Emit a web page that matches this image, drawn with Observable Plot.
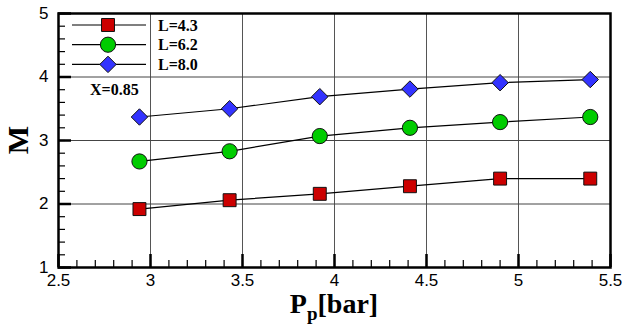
<!DOCTYPE html>
<html><head><meta charset="utf-8">
<script src="https://cdn.jsdelivr.net/npm/d3@7"></script>
<script src="https://cdn.jsdelivr.net/npm/@observablehq/plot@0.6"></script>
<style>body{margin:0;background:#fff}</style>
</head><body><div id="chart"></div>
<script>
const pressure = [2.94, 3.43, 3.92, 4.41, 4.90, 5.39];
const m43 = [1.92, 2.06, 2.16, 2.28, 2.40, 2.40];
const m62 = [2.67, 2.83, 3.07, 3.20, 3.29, 3.37];
const m80 = [3.37, 3.50, 3.69, 3.81, 3.91, 3.96];
const seriesNames = ["L=4.3", "L=6.2", "L=8.0"];
const seriesColors = ["#cc0000", "#00cc00", "#3333ff"];
const seriesSymbols = ["square", "circle", "diamond2"];
const xTicks = [2.5, 3, 3.5, 4, 4.5, 5, 5.5];
const yTicks = [1, 2, 3, 4, 5];
const xMinor = d3.range(25, 56).map(d => d / 10);
const yMinor = d3.range(5, 26).map(d => d / 5);
const note = "X=0.85";

const xDomain = [2.5, 5.5], yDomain = [1, 5];
const W = 624, H = 327, mt = 13, mb = 60, ml = 58, mr = 14;
const frameH = H - mt - mb, frameW = W - ml - mr;
const allSeries = [m43, m62, m80];
const data = allSeries.flatMap((s, i) => s.map((v, j) => ({x: pressure[j], y: v, s: seriesNames[i]})));
const radii = [7.3, 7.6, 7.4];
// tick lengths in pixels, turned into data units so Plot's scales place them
const perPxY = (yDomain[1] - yDomain[0]) / frameH, perPxX = (xDomain[1] - xDomain[0]) / frameW;

const marks = [
  Plot.gridX(xTicks.slice(1, -1), {stroke: "#555", strokeOpacity: 1, strokeWidth: 1}),
  Plot.gridY(yTicks.slice(1, -1), {stroke: "#444", strokeOpacity: 1, strokeWidth: 1}),
  Plot.ruleX(xMinor, {x: d => d, y1: () => yDomain[0], y2: () => yDomain[0] + 7 * perPxY, stroke: "#000", strokeWidth: 1.2}),
  Plot.ruleX(xTicks, {x: d => d, y1: () => yDomain[0], y2: () => yDomain[0] + 13 * perPxY, stroke: "#000", strokeWidth: 2.5}),
  Plot.ruleY(yMinor, {y: d => d, x1: () => xDomain[0], x2: () => xDomain[0] + 7 * perPxX, stroke: "#000", strokeWidth: 1.2}),
  Plot.ruleY(yTicks, {y: d => d, x1: () => xDomain[0], x2: () => xDomain[0] + 13 * perPxX, stroke: "#000", strokeWidth: 2.5}),
  Plot.axisX(xTicks, {tickSize: 0, tickPadding: 6, fontSize: 17, label: null, tickFormat: d => String(d)}),
  Plot.axisY(yTicks, {tickSize: 0, tickPadding: 10, fontSize: 17, label: null, tickFormat: d => String(d)}),
  Plot.frame({stroke: "#000", strokeWidth: 2.5}),
];
allSeries.forEach((s, i) => {
  const d = data.filter(e => e.s === seriesNames[i]);
  marks.push(Plot.line(d, {x: "x", y: "y", stroke: "#000", strokeWidth: 1.2}));
  marks.push(Plot.dot(d, {x: "x", y: "y", symbol: seriesSymbols[i], fill: seriesColors[i], stroke: "#111", strokeWidth: 1, r: radii[i]}));
});

const chart = Plot.plot({
  width: W, height: H,
  marginTop: mt, marginBottom: mb, marginLeft: ml, marginRight: mr,
  x: {domain: xDomain},
  y: {domain: yDomain},
  style: {fontFamily: "'Liberation Sans', Arial, sans-serif", color: "#000", background: "#fff"},
  marks
});
document.getElementById("chart").appendChild(chart);

const svg = d3.select(chart);
// axis titles & legend
const serif = "'Liberation Serif', 'Times New Roman', serif";
const xt = svg.append("text").attr("x", ml + frameW / 2).attr("y", H - 14)
  .attr("text-anchor", "middle").attr("font-family", serif).attr("font-weight", "bold").attr("font-size", 28).attr("fill", "#000");
xt.append("tspan").text("P");
xt.append("tspan").attr("font-size", 19).attr("dy", 7).text("p");
xt.append("tspan").attr("dy", -7).text("[bar]");
svg.append("text").attr("transform", `translate(28,${mt + frameH / 2}) rotate(-90)`)
  .attr("text-anchor", "middle").attr("font-family", serif).attr("font-weight", "bold").attr("font-size", 30).attr("fill", "#000").text("M");

const leg = svg.append("g").attr("text-anchor", "start");
const symTypes = [d3.symbolSquare, d3.symbolCircle, d3.symbolDiamond2];
seriesNames.forEach((n, i) => {
  const yy = 25 + i * 19.7;
  leg.append("line").attr("x1", 72).attr("x2", 146).attr("y1", yy).attr("y2", yy).attr("stroke", "#000").attr("stroke-width", 1.2);
  leg.append("path").attr("d", d3.symbol(symTypes[i], Math.PI * radii[i] * radii[i])()).attr("transform", `translate(108,${yy})`)
    .attr("fill", seriesColors[i]).attr("stroke", "#111");
  leg.append("text").attr("x", 158).attr("y", yy).attr("dy", "0.35em").attr("text-anchor", "start").attr("font-family", serif).attr("font-weight", "bold")
    .attr("font-size", 16).attr("fill", "#000").text(n);
});
leg.append("text").attr("x", 90).attr("y", 89).attr("dy", "0.35em").attr("text-anchor", "start").attr("font-family", serif).attr("font-weight", "bold")
  .attr("font-size", 16).attr("fill", "#000").text(note);
</script>
</body></html>
